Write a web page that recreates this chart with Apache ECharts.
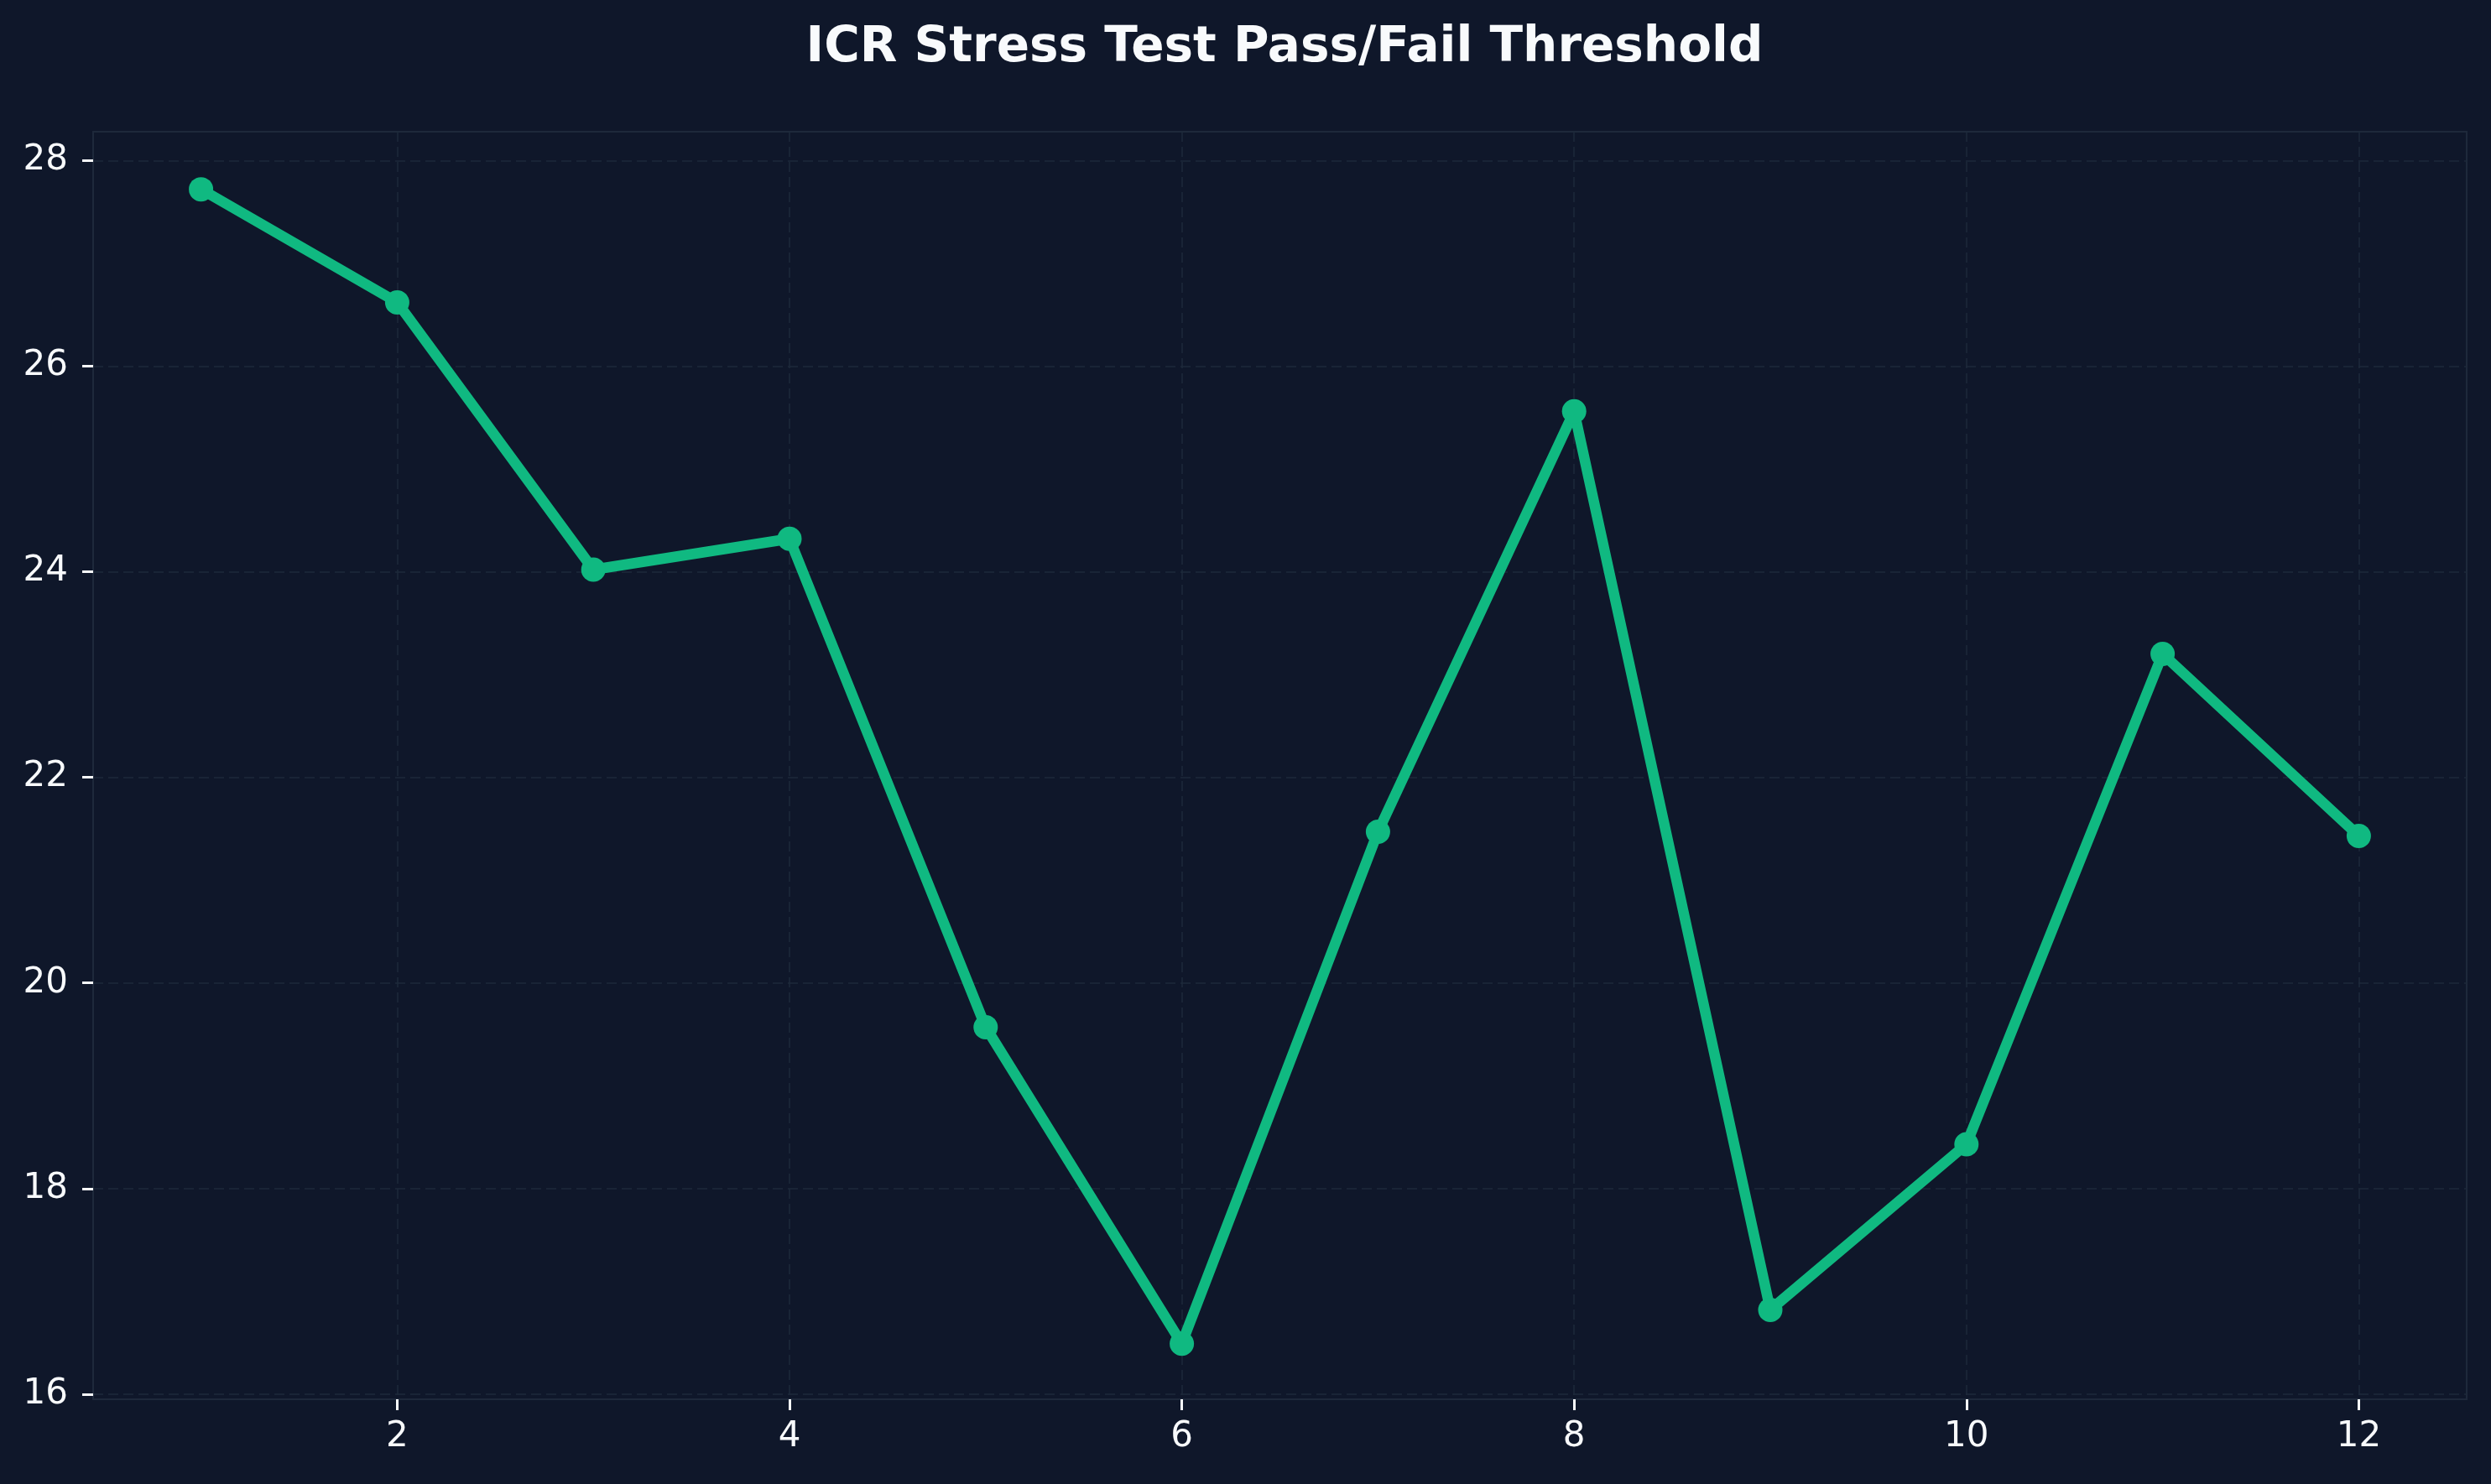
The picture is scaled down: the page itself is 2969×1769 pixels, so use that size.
<!DOCTYPE html>
<html>
<head>
<meta charset="utf-8">
<script src="https://cdn.jsdelivr.net/npm/echarts@6/dist/echarts.min.js"></script>
<style>
  html, body { margin: 0; padding: 0; background: #0f172a; }
  #chart { width: 2969px; height: 1769px; }
</style>
</head>
<body>
<div id="chart"></div>
<script>
// data
const titleText = 'ICR Stress Test Pass/Fail Threshold';
const steps = [1, 2, 3, 4, 5, 6, 7, 8, 9, 10, 11, 12];
const thresholds = [27.72, 26.62, 24.02, 24.32, 19.57, 16.49, 21.47, 25.56, 16.82, 18.43, 23.20, 21.43];
const xTicks = [2, 4, 6, 8, 10, 12];
const yTicks = [16, 18, 20, 22, 24, 26, 28];

const textColor = '#f8fafc';
const gridColor = 'rgba(30, 41, 59, 0.75)';
const lineColor = '#10b981';

const chart = echarts.init(document.getElementById('chart'), null, { renderer: 'canvas' });

const points = steps.map((s, i) => [s, thresholds[i]]);

chart.setOption({
  backgroundColor: '#0f172a',
  animation: false,
  title: {
    text: titleText,
    left: 1526,
    top: 24,
    textAlign: 'center',
    textStyle: {
      color: textColor,
      fontFamily: 'DejaVu Sans',
      fontSize: 58,
      fontWeight: 'bold'
    }
  },
  grid: {
    left: 111,
    right: 29,
    top: 157,
    bottom: 101,
    show: true,
    borderColor: '#1e293b',
    borderWidth: 2,
    backgroundColor: 'transparent',
    outerBoundsMode: 'none'
  },
  xAxis: {
    type: 'value',
    min: 0.45,
    max: 12.55,
    axisLine: { show: false },
    axisTick: {
      show: true,
      customValues: xTicks,
      length: 13,
      lineStyle: { color: textColor, width: 3 }
    },
    axisLabel: {
      customValues: xTicks,
      margin: 24,
      color: textColor,
      fontFamily: 'DejaVu Sans',
      fontSize: 42
    },
    splitLine: {
      show: true,
      lineStyle: { color: gridColor, width: 2, type: [12, 6] }
    }
  },
  yAxis: {
    type: 'value',
    min: 15.95,
    max: 28.28,
    axisLine: { show: false },
    axisTick: {
      show: true,
      customValues: yTicks,
      length: 13,
      lineStyle: { color: textColor, width: 3 }
    },
    axisLabel: {
      customValues: yTicks,
      margin: 30,
      color: textColor,
      fontFamily: 'DejaVu Sans',
      fontSize: 42
    },
    splitLine: {
      show: true,
      lineStyle: { color: gridColor, width: 2, type: [12, 6] }
    }
  },
  series: [
    {
      type: 'line',
      data: points,
      symbol: 'circle',
      symbolSize: 29,
      showSymbol: true,
      lineStyle: { color: lineColor, width: 12.5, join: 'round' },
      itemStyle: { color: lineColor },
      z: 5
    }
  ]
});
</script>
</body>
</html>
